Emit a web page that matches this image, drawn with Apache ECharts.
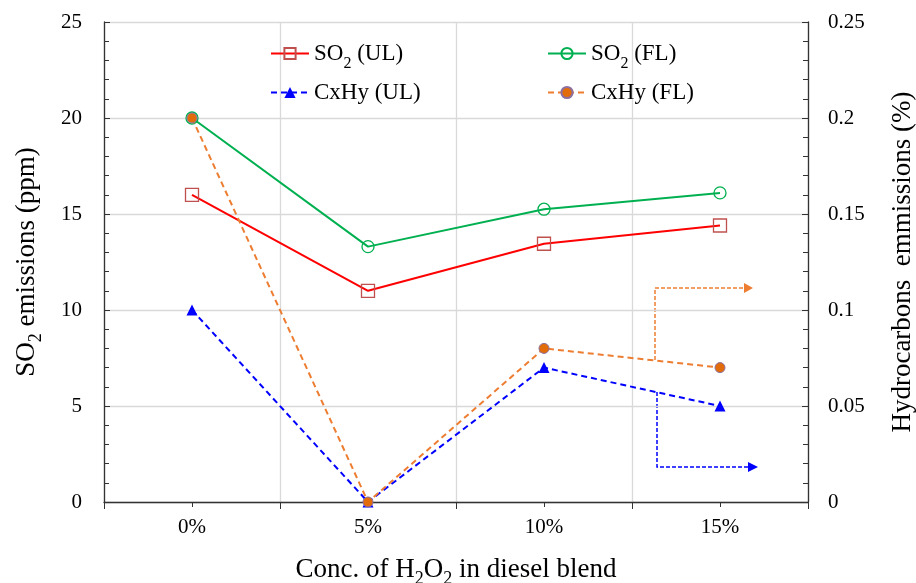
<!DOCTYPE html>
<html>
<head>
<meta charset="utf-8">
<script src="https://cdn.jsdelivr.net/npm/echarts@6/dist/echarts.min.js"></script>
<style>
    html, body { margin: 0; padding: 0; background: #fff; }
    #chart { width: 916px; height: 583px; }
</style>
</head>
<body>
<div id="chart"></div>
<script>
// 数据
var categories = ['0%', '5%', '10%', '15%'];
var so2UL = [16, 11, 13.45, 14.4];
var so2FL = [20, 13.3, 15.25, 16.1];
var cxhyUL = [0.1, 0, 0.07, 0.05];
var cxhyFL = [0.2, 0, 0.08, 0.07];

var serif = 'Liberation Serif';
var subRich = {
    sub: { fontFamily: serif, fontSize: 16, verticalAlign: 'bottom', padding: [0, 0, -7, 0] }
};
var nameSubRich = {
    sub: { fontFamily: serif, fontSize: 18, verticalAlign: 'bottom', padding: [0, 0, -5, 0] }
};

function subscript(name) {
    return name.replace('SO2', 'SO{sub|2}');
}

/**
 * 双轴折线图
 */
function emissionsChart() {
    var myChart = echarts.init(document.getElementById('chart'));
    var option = {
        animation: false,
        grid: { left: 104, right: 108, top: 22, bottom: 81, outerBoundsMode: 'none', containLabel: false },
        legend: [
            {
                data: ['SO2 (UL)', 'CxHy (UL)'],
                orient: 'vertical', left: 265, top: 37,
                itemWidth: 38, itemHeight: 14, itemGap: 9,
                formatter: subscript,
                textStyle: { fontFamily: serif, fontSize: 23, color: '#000', rich: subRich }
            },
            {
                data: ['SO2 (FL)', 'CxHy (FL)'],
                orient: 'vertical', left: 542, top: 37,
                itemWidth: 38, itemHeight: 14, itemGap: 9,
                formatter: subscript,
                textStyle: { fontFamily: serif, fontSize: 23, color: '#000', rich: subRich }
            }
        ],
        xAxis: [
            {
                type: 'category',
                data: categories,
                boundaryGap: true,
                name: 'Conc. of H{sub|2}O{sub|2} in diesel blend',
                nameLocation: 'middle',
                nameGap: 54,
                nameTextStyle: { fontFamily: serif, fontSize: 27, color: '#000', rich: nameSubRich },
                axisLine: { lineStyle: { color: '#333', width: 1.3 } },
                axisTick: { show: true, length: 7, lineStyle: { color: '#333' } },
                axisLabel: { fontFamily: serif, fontSize: 21, color: '#000', margin: 15 },
                splitLine: { show: true, lineStyle: { color: '#d9d9d9', width: 1.3 } }
            },
            {
                type: 'category',
                data: categories,
                position: 'bottom',
                axisLine: { show: false },
                axisTick: { show: true, alignWithLabel: true, length: 5, lineStyle: { color: '#333' } },
                axisLabel: { show: false },
                splitLine: { show: false }
            }
        ],
        yAxis: [
            {
                type: 'value',
                min: 0, max: 25, interval: 5,
                name: 'SO{sub|2} emissions (ppm)',
                nameLocation: 'middle',
                nameGap: 64,
                nameTextStyle: { fontFamily: serif, fontSize: 27, color: '#000', rich: nameSubRich },
                axisLine: { show: true, lineStyle: { color: '#333', width: 1.3 } },
                axisTick: { show: true, inside: true, length: 6, lineStyle: { color: '#333' } },
                minorTick: { show: true, splitNumber: 5, length: 5, lineStyle: { color: '#333' } },
                axisLabel: { fontFamily: serif, fontSize: 21, color: '#000', margin: 22 },
                splitLine: { show: true, lineStyle: { color: '#d9d9d9', width: 1.3 } }
            },
            {
                type: 'value',
                min: 0, max: 0.25, interval: 0.05,
                name: 'Hydrocarbons  emmissions (%)',
                nameLocation: 'middle',
                nameGap: 81,
                nameTextStyle: { fontFamily: serif, fontSize: 27, color: '#000' },
                axisLine: { show: true, lineStyle: { color: '#333', width: 1.3 } },
                axisTick: { show: true, inside: true, length: 6, lineStyle: { color: '#333' } },
                minorTick: { show: true, splitNumber: 5, length: 5, lineStyle: { color: '#333' } },
                axisLabel: { fontFamily: serif, fontSize: 21, color: '#000', margin: 20 },
                splitLine: { show: false }
            }
        ],
        series: [
            {
                name: 'SO2 (UL)', type: 'line', yAxisIndex: 0, data: so2UL,
                symbol: 'rect', symbolSize: 13,
                lineStyle: { color: '#ff0000', width: 2 },
                itemStyle: { color: 'rgba(255,255,255,0)', borderColor: '#c0504d', borderWidth: 1.3 },
                z: 3
            },
            {
                name: 'SO2 (FL)', type: 'line', yAxisIndex: 0, data: so2FL,
                symbol: 'circle', symbolSize: 12,
                lineStyle: { color: '#00b050', width: 2 },
                itemStyle: { color: 'rgba(255,255,255,0)', borderColor: '#00b050', borderWidth: 1.3 },
                z: 3
            },
            {
                name: 'CxHy (UL)', type: 'line', yAxisIndex: 1, data: cxhyUL,
                symbol: 'triangle', symbolSize: 11,
                lineStyle: { color: '#0000ff', width: 2, type: [6, 4] },
                itemStyle: { color: '#0000ff', borderWidth: 0 },
                z: 4
            },
            {
                name: 'CxHy (FL)', type: 'line', yAxisIndex: 1, data: cxhyFL,
                symbol: 'circle', symbolSize: 10,
                lineStyle: { color: '#ed7d31', width: 2, type: [6, 4] },
                itemStyle: { color: '#e36c0a', borderColor: '#8c6f9e', borderWidth: 1 },
                z: 5
            }
        ],
        graphic: [
            {
                type: 'polyline',
                shape: { points: [[655, 360], [655, 288], [745, 288]] },
                style: { stroke: '#ed7d31', lineWidth: 1.5, lineDash: [4, 2], fill: null }
            },
            {
                type: 'polygon',
                shape: { points: [[744, 283], [753, 288], [744, 293]] },
                style: { fill: '#ed7d31' }
            },
            {
                type: 'polyline',
                shape: { points: [[657, 392], [657, 467], [749, 467]] },
                style: { stroke: '#0000ff', lineWidth: 1.5, lineDash: [4, 2], fill: null }
            },
            {
                type: 'polygon',
                shape: { points: [[748, 462], [758, 467], [748, 472]] },
                style: { fill: '#0000ff' }
            }
        ]
    };
    myChart.setOption(option, true);
}

emissionsChart();
</script>
</body>
</html>
